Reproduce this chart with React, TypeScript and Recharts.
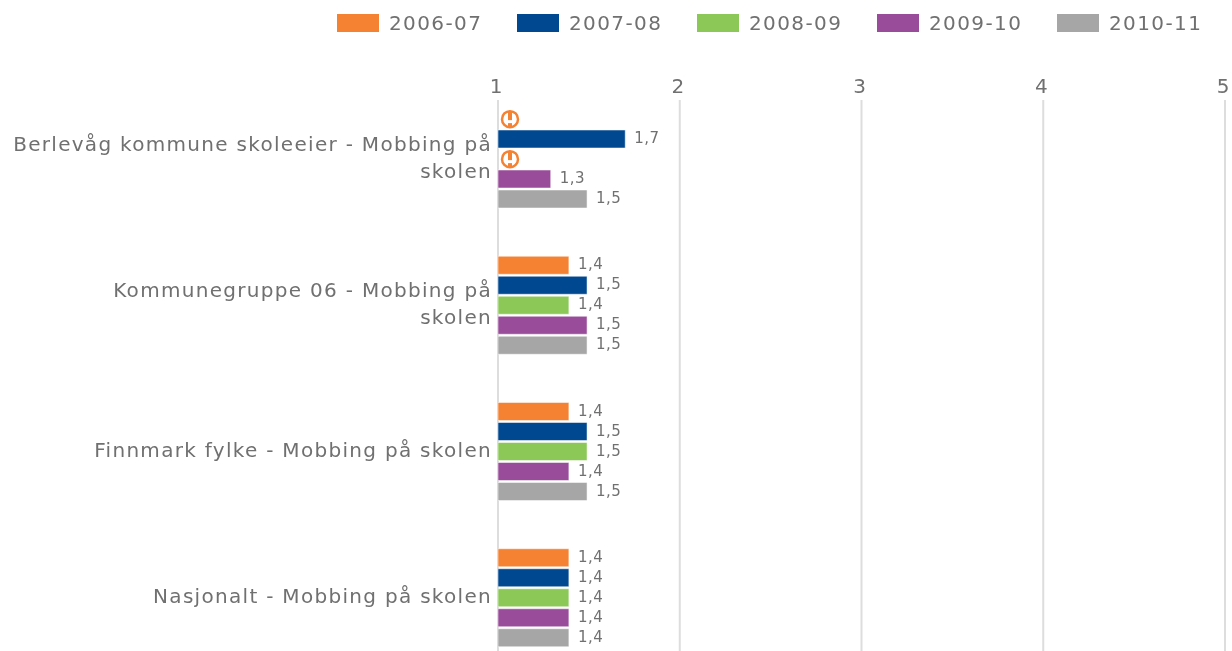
import { BarChart, Bar, XAxis, YAxis, CartesianGrid, Legend, LabelList, ReferenceDot } from "recharts";

const categories = [
    "Berlevåg kommune skoleeier - Mobbing på\nskolen",
    "Kommunegruppe 06 - Mobbing på\nskolen",
    "Finnmark fylke - Mobbing på skolen",
    "Nasjonalt - Mobbing på skolen",
];
const seriesNames = ["2006-07", "2007-08", "2008-09", "2009-10", "2010-11"];
const seriesColors = ["#F58233", "#00488F", "#8BC857", "#994C99", "#A6A6A6"];
// labels show one decimal, bar lengths read slightly under the rounded value
const v0607 = [null, 1.39, 1.39, 1.39];
const v0708 = [1.7, 1.49, 1.49, 1.39];
const v0809 = [null, 1.39, 1.49, 1.39];
const v0910 = [1.29, 1.49, 1.39, 1.39];
const v1011 = [1.49, 1.49, 1.49, 1.39];
const xTicks = [1, 2, 3, 4, 5];

const seriesValues = [v0607, v0708, v0809, v0910, v1011];
const data = categories.map((name, i) => {
    const row: any = { name };
    seriesNames.forEach((s, j) => {
        row[s] = seriesValues[j][i];
    });
    return row;
});

const FONT = "'DejaVu Sans', sans-serif";
const TEXT = "#707070";

function CategoryTick({ x, y, payload }: any) {
    const lines = String(payload.value).split("\n");
    const start = lines.length > 1 ? -8 : 5;
    return (
        <text x={x + 2} y={y} textAnchor="end" fontSize={20} letterSpacing={1.3} fontFamily={FONT} fill={TEXT}>
            {lines.map((line, i) => (
                <tspan key={i} x={x + 2} dy={i === 0 ? start : 27}>
                    {line}
                </tspan>
            ))}
        </text>
    );
}

function ValueLabel({ x, y, width, height, value }: any) {
    return (
        <text x={x + width + 9} y={y + height / 2 + 4} fontSize={15} letterSpacing={0.5} fontFamily={FONT} fill={TEXT}>
            {Number(value).toFixed(1).replace(".", ",")}
        </text>
    );
}

// missing value: warning icon in the slot the bar would have used
function MissingIcon({ cx, cy, slot }: any) {
    const ix = cx + 12;
    const iy = cy + (slot - 2) * 20;
    return (
        <g>
            <circle cx={ix} cy={iy} r={8} fill="#fff" stroke="#F58233" strokeWidth={2.5} />
            <rect x={ix - 2} y={iy - 8} width={4} height={9} fill="#F58233" />
            <rect x={ix - 2} y={iy + 4} width={4} height={4} fill="#F58233" />
        </g>
    );
}

function ChartLegend() {
    return (
        <div style={{ display: "flex", fontFamily: FONT, fontSize: 20, letterSpacing: 1.4, color: TEXT, lineHeight: "18px" }}>
            {seriesNames.map((s, i) => (
                <div key={s} style={{ width: 180, display: "flex", alignItems: "center" }}>
                    <span style={{ width: 42, height: 18, background: seriesColors[i], marginRight: 10 }} />
                    <span>{s}</span>
                </div>
            ))}
        </div>
    );
}

export default function App() {
    return (
        <div style={{ position: "absolute", left: 0, top: 0, width: 1232, height: 651, overflow: "hidden", filter: "blur(0.4px)" }}>
            <BarChart
                width={1232}
                height={676}
                data={data}
                layout="vertical"
                margin={{ top: 52, right: 7, bottom: 5, left: 0 }}
                barSize={18}
                barGap={2}
            >
                <CartesianGrid horizontal={false} stroke="#DDDDDD" strokeWidth={2} />
                <XAxis
                    type="number"
                    orientation="top"
                    domain={[1, 5]}
                    ticks={xTicks}
                    allowDataOverflow
                    axisLine={false}
                    tickLine={false}
                    tickSize={0}
                    tickMargin={7}
                    fontSize={20}
                    fontFamily={FONT}
                    tick={{ fill: TEXT, dx: -2 }}
                />
                <YAxis
                    type="category"
                    dataKey="name"
                    width={498}
                    axisLine={false}
                    tickLine={false}
                    padding={{ top: -14, bottom: 0 }}
                    tick={<CategoryTick />}
                />
                <Legend
                    verticalAlign="top"
                    align="left"
                    content={<ChartLegend />}
                    wrapperStyle={{ left: 337, top: 14, width: 900 }}
                />
                {seriesNames.map((s, i) => (
                    <Bar
                        key={s}
                        dataKey={s}
                        fill={seriesColors[i]}
                        stroke="#FFFFFF"
                        strokeOpacity={0.5}
                        isAnimationActive={false}
                    >
                        <LabelList dataKey={s} content={<ValueLabel />} />
                    </Bar>
                ))}
                {seriesNames.flatMap((s, i) =>
                    categories
                        .filter((_, c) => seriesValues[i][c] == null)
                        .map((cat) => (
                            <ReferenceDot key={s + cat} x={1} y={cat} shape={<MissingIcon slot={i} />} />
                        ))
                )}
            </BarChart>
        </div>
    );
}
